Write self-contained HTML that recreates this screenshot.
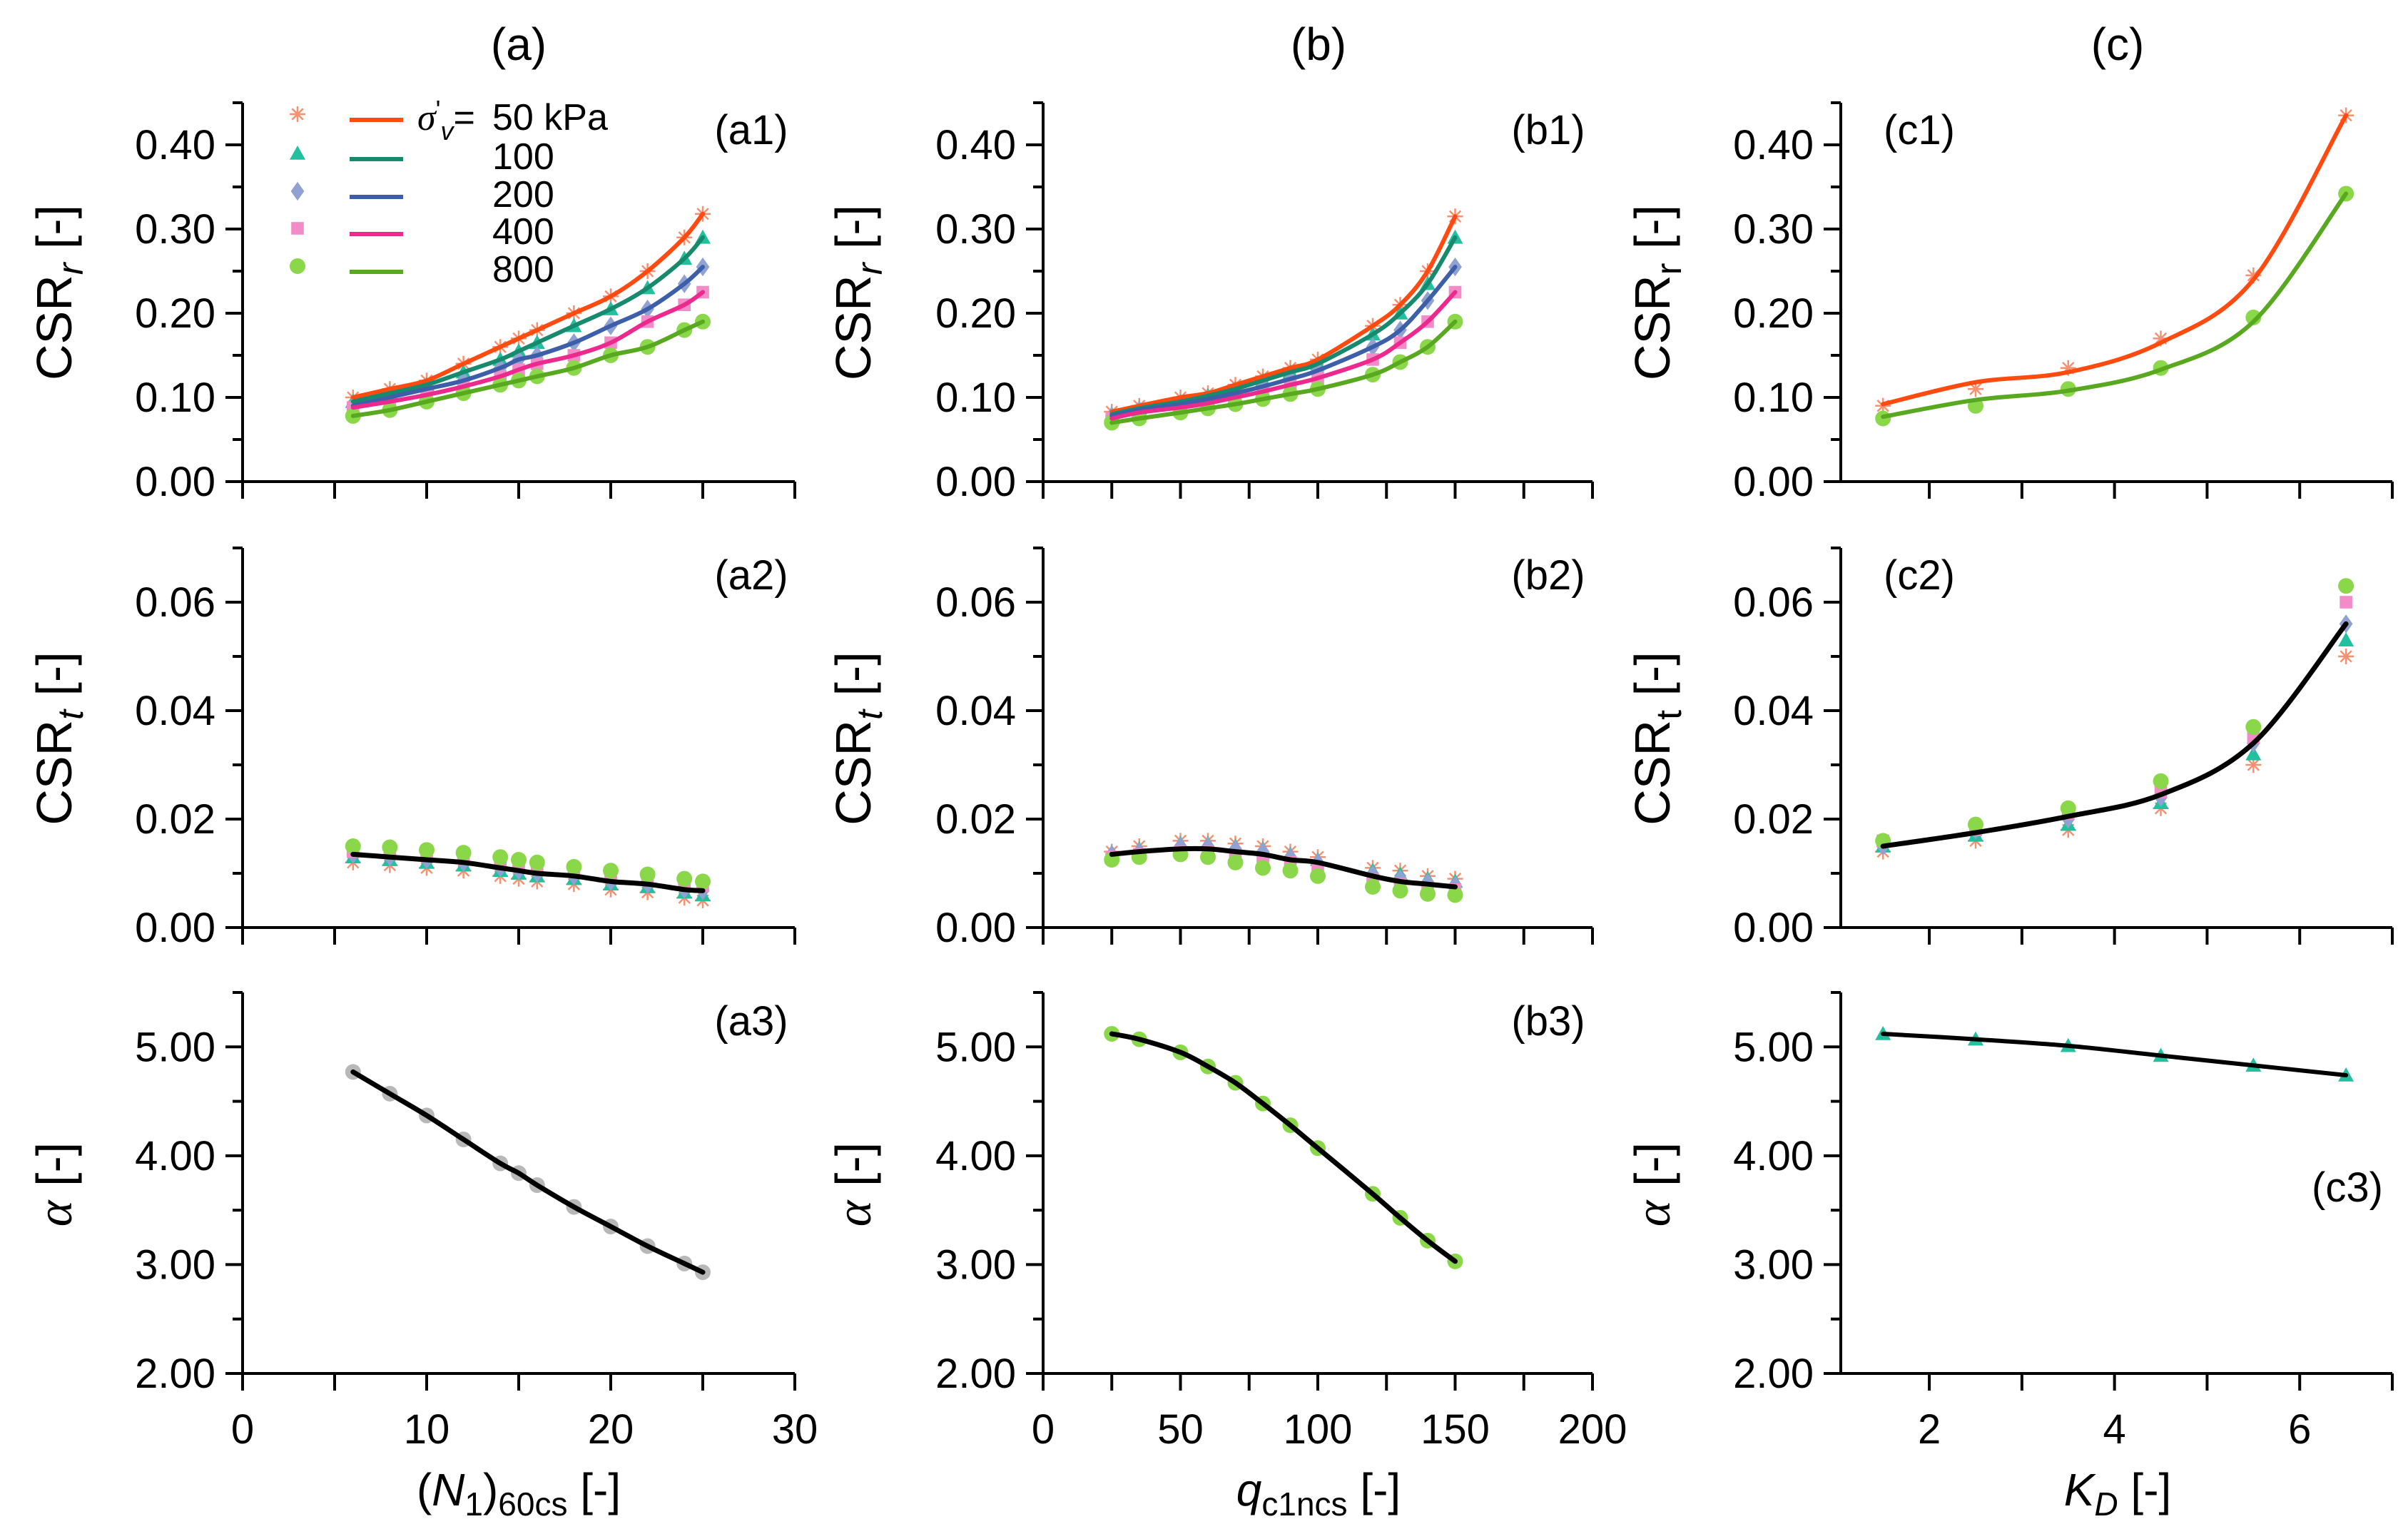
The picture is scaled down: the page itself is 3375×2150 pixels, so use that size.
<!DOCTYPE html>
<html><head><meta charset="utf-8">
<style>
html,body{margin:0;padding:0;background:#fff;}
svg{display:block;font-family:"Liberation Sans",Arial,sans-serif;}
</style></head>
<body>
<svg id="chart" width="3375" height="2150" viewBox="0 0 3375 2150" xmlns="http://www.w3.org/2000/svg"></svg>
<script>
// ---- data ----
const xA = [6,8,10,12,14,15,16,18,20,22,24,25];
const xB = [25,35,50,60,70,80,90,100,120,130,140,150];
const xC = [1.5,2.5,3.5,4.5,5.5,6.5];
const stress = ['50','100','200','400','800'];
const a1_50 = [.10,.11,.12,.14,.16,.17,.18,.20,.22,.25,.29,.318];
const a1_100 = [.095,.105,.115,.13,.145,.155,.165,.185,.205,.23,.265,.29];
const a1_200 = [.09,.10,.11,.12,.135,.145,.15,.165,.185,.205,.235,.255];
const a1_400 = [.088,.095,.103,.113,.125,.133,.14,.15,.165,.19,.21,.225];
const a1_800 = [.078,.085,.095,.105,.115,.12,.125,.135,.15,.16,.18,.19];
const b1_50 = [.083,.09,.10,.105,.115,.125,.135,.145,.185,.21,.25,.315];
const b1_100 = [.08,.087,.095,.102,.11,.12,.13,.14,.175,.20,.235,.29];
const b1_200 = [.078,.085,.092,.098,.105,.113,.122,.132,.16,.18,.215,.255];
const b1_400 = [.075,.082,.088,.093,.10,.107,.115,.123,.145,.165,.19,.225];
const b1_800 = [.07,.075,.082,.087,.092,.098,.104,.11,.127,.142,.16,.19];
const c1_50 = [.09,.11,.135,.17,.245,.435];
const c1_800 = [.075,.09,.11,.135,.195,.342];
const c1_fit50 = [.092,.118,.130,.165,.24,.435];
const c1_fit800 = [.077,.097,.108,.133,.19,.342];
const a2_50 = [.012,.0115,.011,.0105,.0095,.009,.0085,.008,.007,.0065,.0055,.005];
const a2_100 = [.013,.0125,.012,.0115,.0105,.010,.0095,.009,.008,.0075,.0065,.006];
const a2_200 = [.0135,.013,.0125,.012,.011,.0105,.010,.0095,.0085,.008,.007,.0068];
const a2_400 = [.014,.0138,.0133,.0128,.012,.0115,.011,.0103,.0095,.009,.008,.0077];
const a2_800 = [.015,.0148,.0143,.0138,.013,.0125,.012,.0112,.0105,.0098,.009,.0085];
const a2_fit = [.0135,.013,.0125,.012,.011,.0105,.010,.0095,.0085,.008,.007,.0068];
const b2_50 = [.014,.015,.016,.016,.0155,.015,.014,.013,.011,.0105,.0095,.009];
const b2_100 = [.0138,.0145,.0155,.0155,.015,.0145,.0135,.0125,.0105,.0098,.009,.0085];
const b2_200 = [.0135,.014,.015,.015,.0145,.014,.013,.012,.0098,.009,.0083,.0078];
const b2_400 = [.013,.0135,.014,.014,.0133,.0125,.012,.011,.0088,.008,.0073,.007];
const b2_800 = [.0125,.013,.0135,.013,.012,.011,.0105,.0095,.0075,.0068,.0062,.006];
const b2_fit = [.0135,.014,.0145,.0145,.014,.0135,.0125,.012,.0095,.0085,.008,.0075];
const c2_50 = [.014,.016,.018,.022,.030,.050];
const c2_100 = [.015,.017,.019,.023,.032,.053];
const c2_200 = [.015,.018,.020,.024,.034,.056];
const c2_400 = [.016,.018,.021,.025,.035,.060];
const c2_800 = [.016,.019,.022,.027,.037,.063];
const c2_fit = [.015,.0175,.0205,.0245,.034,.056];
const a3_vals = [4.77,4.57,4.37,4.15,3.93,3.84,3.73,3.53,3.35,3.17,3.01,2.93];
const b3_vals = [5.12,5.07,4.95,4.82,4.67,4.48,4.28,4.07,3.65,3.43,3.22,3.03];
const c3_vals = [5.12,5.07,5.01,4.92,4.83,4.74];
const ticksA = [0,10,20,30];
const ticksB = [0,50,100,150,200];
const ticksC = [2,4,6];
const ticksR1 = [0,0.1,0.2,0.3,0.4];
const ticksR2 = [0,0.02,0.04,0.06];
const ticksR3 = [2,3,4,5];

const NS='http://www.w3.org/2000/svg';
const svg=document.getElementById('chart');
function mk(tag,attrs,parent){const e=document.createElementNS(NS,tag);for(const k in attrs)e.setAttribute(k,attrs[k]);(parent||svg).appendChild(e);return e;}

const lineCol=['#ff4a10','#178a6e','#3d5ea8','#ec2a8e','#58a820'];
const mkCol=['#f79070','#22c09e','#8fa2d2','#f28cc8','#8ad84a'];
const mkType=['star','tri','dia','sq','circ'];

const cols=[{x0:340,x1:1114,min:0,max:30,ticks:ticksA,minor:5},
            {x0:1462,x1:2232,min:0,max:200,ticks:ticksB,minor:25},
            {x0:2580,x1:3353,min:1.044,max:7,ticks:ticksC,minor:1}];
const rows=[{y0:675,y1:144,min:0,max:0.45,ticks:ticksR1,minor:0.05,dec:2},
            {y0:1300,y1:768,min:0,max:0.07,ticks:ticksR2,minor:0.01,dec:2},
            {y0:1925,y1:1391,min:2,max:5.5,ticks:ticksR3,minor:0.5,dec:2}];
const TF=58;
function axes(ci,ri,name){
  const c=cols[ci],r=rows[ri];
  const g=mk('g',{});
  
  
  const sx=v=>c.x0+(v-c.min)/(c.max-c.min)*(c.x1-c.x0);
  const sy=v=>r.y0+(v-r.min)/(r.max-r.min)*(r.y1-r.y0);
  mk('line',{x1:c.x0,y1:r.y0,x2:c.x0,y2:r.y1,stroke:'#000','stroke-width':4},g);
  mk('line',{x1:c.x0-20,y1:r.y0,x2:c.x1,y2:r.y0,stroke:'#000','stroke-width':4},g);
  for(let v=r.min;v<=r.max+1e-9;v+=r.minor){
    const y=sy(v);
    const major=r.ticks.some(t=>Math.abs(t-v)<1e-9);
    mk('line',{x1:c.x0-(major?24:14),y1:y,x2:c.x0,y2:y,stroke:'#000','stroke-width':4},g);
    if(major){const t=mk('text',{x:c.x0-38,y:y+20,'text-anchor':'end','font-size':TF},g);t.textContent=v.toFixed(r.dec);
      }
  }
  let start=Math.ceil(c.min/c.minor)*c.minor;
  for(let v=start;v<=c.max+1e-9;v+=c.minor){
    const x=sx(v);
    const major=c.ticks.some(t=>Math.abs(t-v)<1e-9);
    mk('line',{x1:x,y1:r.y0,x2:x,y2:r.y0+24,stroke:'#000','stroke-width':4},g);
    if(major&&ri===2){const t=mk('text',{x:x,y:r.y0+98,'text-anchor':'middle','font-size':TF},g);t.textContent=v;
      }
  }
  return {sx,sy,g};
}
function marker(g,type,x,y,col){
  const s=11;let e;
  if(type==='star'){e=mk('g',{stroke:col,'stroke-width':2.5},g);
    for(let a=0;a<180;a+=45){const r=a*Math.PI/180;mk('line',{x1:x-s*Math.cos(r),y1:y-s*Math.sin(r),x2:x+s*Math.cos(r),y2:y+s*Math.sin(r)},e);}}
  else if(type==='tri')e=mk('polygon',{points:`${x},${y-s} ${x-s},${y+s*0.8} ${x+s},${y+s*0.8}`,fill:col},g);
  else if(type==='dia')e=mk('polygon',{points:`${x},${y-s*1.2} ${x+s*0.85},${y} ${x},${y+s*1.2} ${x-s*0.85},${y}`,fill:col},g);
  else if(type==='sq')e=mk('rect',{x:x-s*0.8,y:y-s*0.8,width:s*1.6,height:s*1.6,fill:col},g);
  else e=mk('circle',{cx:x,cy:y,r:s,fill:col},g);
  
  
}
function smooth(pts){
  let d=`M${pts[0][0]},${pts[0][1]}`;
  for(let i=0;i<pts.length-1;i++){
    const p0=pts[Math.max(0,i-1)],p1=pts[i],p2=pts[i+1],p3=pts[Math.min(pts.length-1,i+2)];
    const c1=[p1[0]+(p2[0]-p0[0])/6,p1[1]+(p2[1]-p0[1])/6],c2=[p2[0]-(p3[0]-p1[0])/6,p2[1]-(p3[1]-p1[1])/6];
    d+=` C${c1[0]},${c1[1]} ${c2[0]},${c2[1]} ${p2[0]},${p2[1]}`;}
  return d;
}
function curve(ax,xs,ys,col,w,name){
  const p=mk('path',{d:smooth(xs.map((x,i)=>[ax.sx(x),ax.sy(ys[i])])),fill:'none',stroke:col,'stroke-width':w,'stroke-linecap':'round'},ax.g);
  
  
}
function pts(ax,xs,ys,si){xs.forEach((x,i)=>marker(ax.g,mkType[si],ax.sx(x),ax.sy(ys[i]),mkCol[si]));}
function txt(x,y,s,size,name,extra){const t=mk('text',Object.assign({x:x,y:y,'font-size':size,'text-anchor':'middle'},extra||{}));t.innerHTML=s;
  return t;}

let ax=axes(0,0,'panel-a1');
[a1_50,a1_100,a1_200,a1_400,a1_800].forEach((s,i)=>pts(ax,xA,s,i));
[a1_50,a1_100,a1_200,a1_400,a1_800].forEach((s,i)=>curve(ax,xA,s,lineCol[i],6,'fit-line-'+stress[i]));
ax=axes(1,0,'panel-b1');
[b1_50,b1_100,b1_200,b1_400,b1_800].forEach((s,i)=>pts(ax,xB,s,i));
[b1_50,b1_100,b1_200,b1_400,b1_800].forEach((s,i)=>curve(ax,xB,s,lineCol[i],6,'fit-line-'+stress[i]));
ax=axes(2,0,'panel-c1');
pts(ax,xC,c1_50,0);pts(ax,xC,c1_800,4);
curve(ax,xC,c1_fit50,lineCol[0],6,'fit-line-50');curve(ax,xC,c1_fit800,lineCol[4],6,'fit-line-800');
ax=axes(0,1,'panel-a2');
[a2_50,a2_100,a2_200,a2_400,a2_800].forEach((s,i)=>pts(ax,xA,s,i));
curve(ax,xA,a2_fit,'#000',7,'fit-line');
ax=axes(1,1,'panel-b2');
[b2_50,b2_100,b2_200,b2_400,b2_800].forEach((s,i)=>pts(ax,xB,s,i));
curve(ax,xB,b2_fit,'#000',7,'fit-line');
ax=axes(2,1,'panel-c2');
[c2_50,c2_100,c2_200,c2_400,c2_800].forEach((s,i)=>pts(ax,xC,s,i));
curve(ax,xC,c2_fit,'#000',7,'fit-line');
ax=axes(0,2,'panel-a3');
xA.forEach((x,i)=>{const c=mk('circle',{cx:ax.sx(x),cy:ax.sy(a3_vals[i]),r:11,fill:'#b8b8b8'},ax.g);});
curve(ax,xA,a3_vals,'#000',7,'fit-line');
ax=axes(1,2,'panel-b3');
pts(ax,xB,b3_vals,4);
curve(ax,xB,b3_vals,'#000',7,'fit-line');
ax=axes(2,2,'panel-c3');
pts(ax,xC,c3_vals,1);
curve(ax,xC,c3_vals,'#000',6,'fit-line');

txt(727,84,'(a)',64,'column-title-a');
txt(1848,84,'(b)',64,'column-title-b');
txt(2968,84,'(c)',64,'column-title-c');
const pl=[['(a1)',1053,202],['(b1)',2170,202],['(c1)',2690,202],['(a2)',1053,826],['(b2)',2170,826],['(c2)',2690,826],['(a3)',1053,1451],['(b3)',2170,1451],['(c3)',3290,1684]];
pl.forEach(p=>txt(p[1],p[2],p[0],58,'panel-label'));
function ytitle(x,y,html,name){txt(x,y,html,70,name,{transform:`rotate(-90 ${x} ${y})`});}
ytitle(100,410,'CSR<tspan font-style="italic" font-size="50" dy="16">r</tspan><tspan dy="-16"> [-]</tspan>','y-axis-title-a1');
ytitle(1220,410,'CSR<tspan font-style="italic" font-size="50" dy="16">r</tspan><tspan dy="-16"> [-]</tspan>','y-axis-title-b1');
ytitle(2340,410,'CSR<tspan font-size="50" dy="16">r</tspan><tspan dy="-16">  [-]</tspan>','y-axis-title-c1');
ytitle(100,1035,'CSR<tspan font-style="italic" font-size="50" dy="16">t</tspan><tspan dy="-16"> [-]</tspan>','y-axis-title-a2');
ytitle(1220,1035,'CSR<tspan font-style="italic" font-size="50" dy="16">t</tspan><tspan dy="-16"> [-]</tspan>','y-axis-title-b2');
ytitle(2340,1035,'CSR<tspan font-size="50" dy="16">t</tspan><tspan dy="-16">  [-]</tspan>','y-axis-title-c2');
ytitle(100,1660,'<tspan font-style="italic" font-family="Liberation Serif">α</tspan> [-]','y-axis-title-a3');
ytitle(1220,1660,'<tspan font-style="italic" font-family="Liberation Serif">α</tspan> [-]','y-axis-title-b3');
ytitle(2340,1660,'<tspan font-style="italic" font-family="Liberation Serif">α</tspan>  [-]','y-axis-title-c3');
txt(727,2110,'(<tspan font-style="italic">N</tspan><tspan font-size="46" dy="14">1</tspan><tspan dy="-14">)</tspan><tspan font-size="46" dy="14">60cs</tspan><tspan dy="-14"> [-]</tspan>',64,'x-axis-title-a');
txt(1848,2110,'<tspan font-style="italic">q</tspan><tspan font-size="46" dy="14">c1ncs</tspan><tspan dy="-14"> [-]</tspan>',64,'x-axis-title-b');
txt(2968,2110,'<tspan font-style="italic">K</tspan><tspan font-style="italic" font-size="46" dy="14">D</tspan><tspan dy="-14">  [-]</tspan>',64,'x-axis-title-c');
const lg=mk('g',{});


const ly=[160,215,268,320,373];
const lbl=['50 kPa','100','200','400','800'];
ly.forEach((y,i)=>{
  marker(lg,mkType[i],417,y,mkCol[i]);
  const l=mk('line',{x1:490,y1:y+8,x2:565,y2:y+8,stroke:lineCol[i],'stroke-width':6},lg);
  
  const t=mk('text',{x:690,y:y+22,'font-size':52},lg);t.textContent=lbl[i];
  
});
const sg=mk('text',{x:585,y:182,'font-size':52},lg);
sg.innerHTML='<tspan font-style="italic" font-family="Liberation Serif">σ</tspan><tspan font-size="36" dy="-16">\'</tspan><tspan font-size="36" font-style="italic" dy="30">v</tspan><tspan dy="-14">=</tspan>';


</script>
</body></html>
